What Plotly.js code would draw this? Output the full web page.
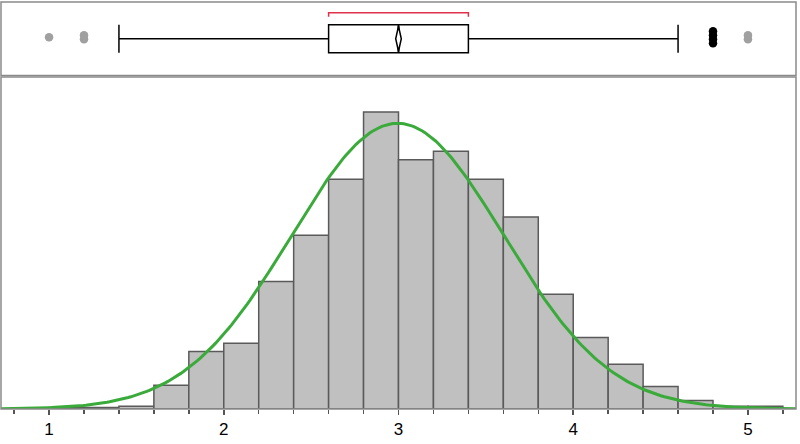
<!DOCTYPE html>
<html>
<head>
<meta charset="utf-8">
<script src="https://cdn.plot.ly/plotly-3.0.1.min.js"></script>
<style>
html,body{margin:0;padding:0;background:#fff;}
#chart{width:800px;height:444px;}
</style>
</head>
<body>
<div id="chart"></div>
<script>
// ---- Histogram data (bin lower edges, width 0.2) ----
const binStarts = [1.0, 1.2, 1.4, 1.6, 1.8, 2.0, 2.2, 2.4, 2.6, 2.8, 3.0, 3.2, 3.4, 3.6, 3.8, 4.0, 4.2, 4.4, 4.6, 4.8, 5.0];
const binCounts = [1, 1, 2, 17, 41, 47, 91, 124, 164, 212, 178, 184, 164, 137, 82, 51, 32, 16, 6, 2, 2];
const binWidth = 0.2;

// ---- Normal fit parameters ----
const fitMean = 2.995;
const fitSD = 0.608;

// ---- Box plot summary ----
const boxQ1 = 2.6;
const boxMedian = 3.0;
const boxQ3 = 3.4;
const whiskerLow = 1.4;
const whiskerHigh = 4.6;
const meanValue = 3.0;
const meanCI = 0.016;
const shortestHalf = [2.6, 3.4];

// ---- Outliers ----
const outlierValues = [1.0, 1.2, 4.8, 5.0];
const outlierCounts = [1, 2, 4, 2];

// ---- Tick labels ----
const tickValues = [1, 2, 3, 4, 5];
const tickLabels = ['1', '2', '3', '4', '5'];

// ---------------- build ----------------
const xRange = [0.725, 5.275];
const outlierColors = ['#a0a0a0', '#a0a0a0', '#000000', '#a0a0a0'];

const N = binCounts.reduce((a, b) => a + b, 0);
const barX = binStarts.map(s => s + binWidth / 2);

const bars = {
  type: 'bar', x: barX, y: binCounts, width: binWidth,
  marker: {color: '#c0c0c0', line: {color: '#5a5a5a', width: 1.5}},
  xaxis: 'x', yaxis: 'y', hoverinfo: 'skip'
};

const cx = [], cy = [];
const nPts = 300;
for (let i = 0; i <= nPts; i++) {
  const x = xRange[0] + (xRange[1] - xRange[0]) * i / nPts;
  const z = (x - fitMean) / fitSD;
  cx.push(x);
  cy.push(N * binWidth * Math.exp(-0.5 * z * z) / (fitSD * Math.sqrt(2 * Math.PI)));
}
const curve = {
  type: 'scatter', mode: 'lines', x: cx, y: cy,
  line: {color: '#3aaa3a', width: 3}, xaxis: 'x', yaxis: 'y', hoverinfo: 'skip', cliponaxis: true
};

const box = {
  type: 'box', orientation: 'h', y: [0.5],
  q1: [boxQ1], median: [boxMedian], q3: [boxQ3],
  lowerfence: [whiskerLow], upperfence: [whiskerHigh],
  width: 0.38, whiskerwidth: 1, boxpoints: false,
  fillcolor: '#ffffff', line: {color: '#000000', width: 1.5},
  xaxis: 'x', yaxis: 'y2', hoverinfo: 'skip'
};

const dh = 0.17;
const diamond = {
  type: 'scatter', mode: 'lines', fill: 'toself', fillcolor: '#ffffff',
  x: [meanValue, meanValue + meanCI, meanValue, meanValue - meanCI, meanValue],
  y: [0.5 + dh, 0.5, 0.5 - dh, 0.5, 0.5 + dh],
  line: {color: '#000000', width: 1.5}, xaxis: 'x', yaxis: 'y2', hoverinfo: 'skip'
};
const medianLine = {
  type: 'scatter', mode: 'lines',
  x: [boxMedian, boxMedian], y: [0.31, 0.69],
  line: {color: '#000000', width: 1.5}, xaxis: 'x', yaxis: 'y2', hoverinfo: 'skip'
};

const bracket = {
  type: 'scatter', mode: 'lines',
  x: [shortestHalf[0], shortestHalf[0], shortestHalf[1], shortestHalf[1]],
  y: [0.8, 0.855, 0.855, 0.8],
  line: {color: '#e0304a', width: 1.5}, xaxis: 'x', yaxis: 'y2', hoverinfo: 'skip'
};

const outTraces = outlierValues.map((v, i) => {
  const n = outlierCounts[i];
  const xs = [], ys = [];
  for (let k = 0; k < n; k++) {
    xs.push(v);
    ys.push(0.52 + (k - (n - 1) / 2) * 0.055);
  }
  return {
    type: 'scatter', mode: 'markers', x: xs, y: ys,
    marker: {color: outlierColors[i], size: 8.5},
    xaxis: 'x', yaxis: 'y2', hoverinfo: 'skip'
  };
});

const plotH = 444 - 2 - 35;
const lowerTop = (409 - 77) / plotH;
const upperBottom = (409 - 75.5) / plotH;

const layout = {
  width: 800, height: 444,
  margin: {l: 1, r: 4, t: 2, b: 35},
  paper_bgcolor: '#ffffff', plot_bgcolor: 'rgba(0,0,0,0)',
  showlegend: false, hovermode: false,
  font: {family: 'Liberation Sans, Arial, sans-serif', size: 17, color: '#000'},
  xaxis: {
    range: xRange, tickvals: tickValues, ticktext: tickLabels,
    ticks: 'outside', ticklen: 5, tickwidth: 1.5, tickcolor: '#555',
    showgrid: false, zeroline: false, showline: false,
    minor: {dtick: 0.2, tick0: 0, ticks: 'outside', ticklen: 4, tickwidth: 1.5, tickcolor: '#555', showgrid: false},
    anchor: 'y', fixedrange: true
  },
  yaxis: {
    domain: [0, lowerTop], range: [0, 237],
    showticklabels: false, ticks: '', showgrid: false, zeroline: false, showline: false
  },
  yaxis2: {
    domain: [upperBottom, 1], range: [0, 1],
    showticklabels: false, ticks: '', showgrid: false, zeroline: false, showline: false
  },
  shapes: [
    {type: 'rect', xref: 'paper', yref: 'paper', x0: 0, x1: 1, y0: 0, y1: lowerTop,
     line: {color: '#8a8a8a', width: 1.5}, fillcolor: 'rgba(0,0,0,0)', layer: 'above'},
    {type: 'rect', xref: 'paper', yref: 'paper', x0: 0, x1: 1, y0: upperBottom, y1: 1,
     line: {color: '#8a8a8a', width: 1.5}, fillcolor: 'rgba(0,0,0,0)', layer: 'above'}
  ]
};

Plotly.newPlot('chart', [bars, curve, box, medianLine, diamond, bracket].concat(outTraces), layout, {staticPlot: true, displayModeBar: false});
</script>
</body>
</html>
